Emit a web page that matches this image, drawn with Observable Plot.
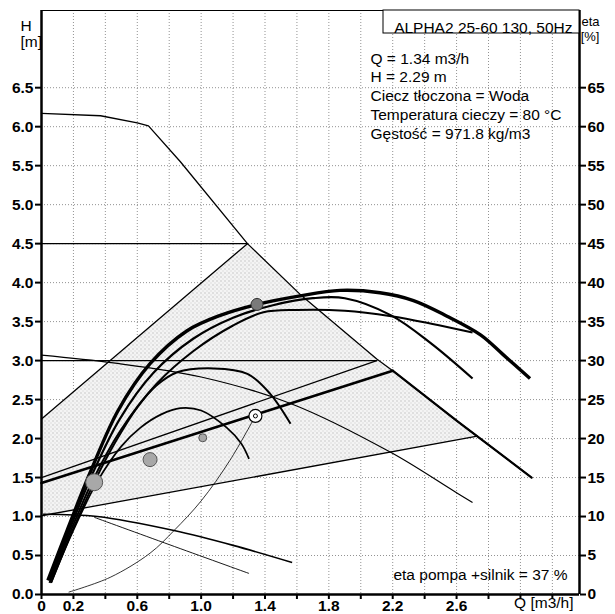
<!DOCTYPE html>
<html><head><meta charset="utf-8">
<script src="https://cdn.jsdelivr.net/npm/d3@7"></script>
<script src="https://cdn.jsdelivr.net/npm/@observablehq/plot@0.6"></script>
<style>
body{margin:0;background:#fff;}
#chart{width:615px;height:614px;}
svg{font-family:"Liberation Sans",Arial,sans-serif;}
</style></head><body><div id="chart"></div>
<script>
// ---- axes / ticks ----
const qTicks = [0,0.2,0.4,0.6,0.8,1.0,1.2,1.4,1.6,1.8,2.0,2.2,2.4,2.6,2.8,3.0,3.2];
const qTickLabels = ["0","0.2","","0.6","","1.0","","1.4","","1.8","","2.2","","2.6","","",""];
const hTicks = [0,0.5,1,1.5,2,2.5,3,3.5,4,4.5,5,5.5,6,6.5];
const etaTicks = [0,5,10,15,20,25,30,35,40,45,50,55,60,65];
const qDomain = [0, 3.37];
const hDomain = [0, 7.49];

// ---- texts ----
const titleText = "ALPHA2 25-60 130, 50Hz";
const infoLines = ["Q = 1.34 m3/h","H = 2.29 m","Ciecz tłoczona = Woda","Temperatura cieczy = 80 °C","Gęstość = 971.8 kg/m3"];
const effText = "eta pompa +silnik = 37 %";

// ---- QH envelope lines ----
const maxQ = [0,0.37,0.60,0.67,0.87,1.29,1.63,2.10,2.20,2.60,3.07];
const maxH = [6.17,6.14,6.05,6.01,5.55,4.50,3.83,3.02,2.87,2.23,1.50];
const h45Q = [0,1.29], h45H = [4.5,4.5];
const diagQ = [0,1.29], diagH = [2.25,4.5];
const h30Q = [0,2.10], h30H = [3.0,3.0];
const thinRiseQ = [0,2.10], thinRiseH = [1.50,3.0];
const thickRiseQ = [0,2.20], thickRiseH = [1.43,2.87];
const lowRiseQ = [0,2.73], lowRiseH = [1.01,2.03];
const minCurveQ = [0,0.45,1.0,1.56,2.19,2.58,2.70];
const minCurveH = [3.07,2.97,2.79,2.45,1.82,1.33,1.18];
const powAQ = [0.01,0.35,0.83,1.2,1.57], powAH = [1.03,1.0,0.82,0.63,0.41];
const powBQ = [0.33,0.80,1.30], powBH = [0.99,0.64,0.27];
const sysQ = [0.17,0.43,0.68,0.83,1.0,1.18,1.34];
const sysH = [0.03,0.22,0.53,0.82,1.2,1.72,2.29];

// ---- efficiency curves (eta/10 in H units) ----
const e1Q = [0.04,0.16,0.31,0.48,0.68,0.91,1.12,1.35,1.62,1.87,2.12,2.33,2.54,2.75,2.89,3.06];
const e1H = [0.18,0.82,1.59,2.36,2.96,3.38,3.58,3.72,3.83,3.90,3.87,3.77,3.57,3.33,3.08,2.77];
const e2Q = [0.05,0.17,0.32,0.49,0.70,0.95,1.20,1.45,1.70,1.90,2.19,2.44,2.70];
const e2H = [0.18,0.80,1.55,2.25,2.84,3.28,3.55,3.71,3.80,3.80,3.58,3.22,2.77];
const e3Q = [0.05,0.18,0.33,0.50,0.72,0.95,1.20,1.39,1.60,1.90,2.19,2.45,2.70];
const e3H = [0.15,0.80,1.50,2.12,2.70,3.12,3.45,3.62,3.65,3.64,3.57,3.47,3.36];
const e4Q = [0.06,0.19,0.34,0.47,0.60,0.72,0.85,1.08,1.29,1.43,1.56];
const e4H = [0.15,0.80,1.48,1.98,2.40,2.68,2.85,2.90,2.83,2.58,2.19];
const e5Q = [0.06,0.19,0.35,0.50,0.62,0.75,0.87,1.00,1.16,1.25,1.30];
const e5H = [0.15,0.78,1.45,1.90,2.14,2.31,2.39,2.36,2.14,1.94,1.74];

// ---- markers ----
const grayQ = [0.33,0.68,1.01], grayH = [1.44,1.73,2.01], grayR = [8.5,7,4];
const etaPtQ = [1.35], etaPtH = [3.72];
const dutyQ = [1.34], dutyH = [2.29];

const S = (qs, hs) => qs.map((q, i) => ({q, h: hs[i]}));

// stippled operating area polygon built from the boundary lines
const areaPoly = [
  ...S(diagQ, diagH),
  ...S(maxQ, maxH).filter(d => d.q > 1.29 && d.q < 2.73),
  {q: lowRiseQ[1], h: lowRiseH[1]},
  {q: lowRiseQ[0], h: lowRiseH[0]}
];

const labelMap = new Map(qTicks.map((q, i) => [q.toFixed(1), qTickLabels[i]]));

function decor() {
  const g = d3.create("svg:g");
  const p = g.append("defs").append("pattern").attr("id","stip")
    .attr("width",4).attr("height",4).attr("patternUnits","userSpaceOnUse");
  p.append("rect").attr("width",4).attr("height",4).attr("fill","#f4f4f4");
  p.append("rect").attr("x",0).attr("y",0).attr("width",1).attr("height",1).attr("fill","#a0a0a0");
  p.append("rect").attr("x",2).attr("y",2).attr("width",1).attr("height",1).attr("fill","#c8c8c8");
  return g.node();
}
function titleBox() {
  const dims = arguments[3];
  const w = 196, h = 23;
  return d3.create("svg:rect")
    .attr("x", dims.width - dims.marginRight - w).attr("y", dims.marginTop)
    .attr("width", w).attr("height", h)
    .attr("fill", "#fff").attr("stroke", "#000").attr("stroke-width", 1).node();
}

const L = (qs, hs, w) => Plot.line(S(qs, hs), {x: "q", y: "h", stroke: "#000", strokeWidth: w, curve: "linear"});
const C = (qs, hs, w) => Plot.line(S(qs, hs), {x: "q", y: "h", stroke: "#000", strokeWidth: w, curve: "catmull-rom", strokeLinecap: "butt"});
const FS = 15.5;

const chart = Plot.plot({
  width: 615, height: 614,
  marginLeft: 41, marginRight: 36, marginTop: 10, marginBottom: 20,
  x: {domain: qDomain, label: null},
  y: {domain: hDomain, label: null},
  r: {type: "identity"},
  style: {fontFamily: "'Liberation Sans', Arial, sans-serif", fontSize: FS + "px", color: "#000", background: "#fff"},
  marks: [
    decor,
    Plot.gridX(qTicks.slice(1), {stroke: "#777", strokeOpacity: 0.8, strokeDasharray: "1,2"}),
    Plot.gridY(hTicks.slice(1), {stroke: "#777", strokeOpacity: 0.8, strokeDasharray: "1,2"}),
    Plot.line(areaPoly, {x: "q", y: "h", fill: "url(#stip)", stroke: "none"}),
    // envelope lines
    L(maxQ, maxH, 1.3),
    Plot.line(S(maxQ, maxH).filter(d => d.q >= 2.2), {x: "q", y: "h", stroke: "#000", strokeWidth: 2.2}),
    L(h45Q, h45H, 1.3),
    L(diagQ, diagH, 1.3),
    L(h30Q, h30H, 1.3),
    L(thinRiseQ, thinRiseH, 1.3),
    L(thickRiseQ, thickRiseH, 2.6),
    L(lowRiseQ, lowRiseH, 1.3),
    C(minCurveQ, minCurveH, 1.2),
    C(powAQ, powAH, 1.6),
    C(powBQ, powBH, 0.9),
    C(sysQ, sysH, 0.8),
    // efficiency curves
    C(e5Q, e5H, 1.7),
    C(e4Q, e4H, 2),
    C(e3Q, e3H, 2),
    C(e2Q, e2H, 2.2),
    C(e1Q, e1H, 3.4),
    // markers
    Plot.dot(grayQ.map((q, i) => ({q, h: grayH[i], r: grayR[i]})), {x: "q", y: "h", r: "r", fill: "#a8a8a8", stroke: "#555", strokeWidth: 1}),
    Plot.dot(S(etaPtQ, etaPtH), {x: "q", y: "h", r: 6, fill: "#7a7a7a", stroke: "#333", strokeWidth: 1}),
    Plot.dot(S(dutyQ, dutyH), {x: "q", y: "h", r: 6.5, fill: "#fff", stroke: "#000", strokeWidth: 1.2}),
    Plot.dot(S(dutyQ, dutyH), {x: "q", y: "h", r: 2, fill: "none", stroke: "#000", strokeWidth: 1}),
    // frame
    Plot.ruleY([hDomain[1]], {stroke: "#000", strokeWidth: 1.2}),
    Plot.ruleX([qDomain[0]], {stroke: "#000", strokeWidth: 2.5}),
    Plot.ruleX([qDomain[1]], {stroke: "#000", strokeWidth: 2.5}),
    Plot.ruleY([hDomain[0]], {stroke: "#000", strokeWidth: 2.5}),
    // axes
    Plot.axisX(qTicks, {tickFormat: d => labelMap.get((+d).toFixed(1)), tickSize: 5, tickPadding: 0, strokeWidth: 2, fontSize: FS, fontWeight: "bold", label: null}),
    Plot.axisY(hTicks, {tickFormat: d => d.toFixed(1), tickSize: 6, tickPadding: 2, strokeWidth: 2, fontSize: FS, fontWeight: "bold", label: null}),
    Plot.axisY(etaTicks.map(v => v / 10), {anchor: "right", tickFormat: d => String(Math.round(d * 10)), tickSize: 6, tickPadding: 2, strokeWidth: 2, fontSize: FS, fontWeight: "bold", label: null}),
    // axis titles
    Plot.text(["H"], {frameAnchor: "top-left", dx: -21, dy: 9, fontSize: FS}),
    Plot.text(["[m]"], {frameAnchor: "top-left", dx: -21, dy: 25, fontSize: FS}),
    Plot.text(["eta"], {frameAnchor: "top-right", dx: 20, dy: 6, fontSize: 13}),
    Plot.text(["[%]"], {frameAnchor: "top-right", dx: 20, dy: 21, fontSize: 13}),
    Plot.text(["Q [m3/h]"], {frameAnchor: "bottom-right", textAnchor: "end", dx: -6, dy: 13, fontSize: FS}),
    // title box and info
    titleBox,
    Plot.text([titleText], {frameAnchor: "top-right", textAnchor: "end", dx: -7, dy: 11, fontSize: FS}),
    ...infoLines.map((t, i) => Plot.text([t], {frameAnchor: "top-right", textAnchor: "start", dx: -209, dy: 42 + i * 18.8, fontSize: FS})),
    Plot.text([effText], {frameAnchor: "bottom-right", textAnchor: "end", dx: -12, dy: -15, fontSize: FS})
  ]
});
document.getElementById("chart").appendChild(chart);
</script></body></html>
